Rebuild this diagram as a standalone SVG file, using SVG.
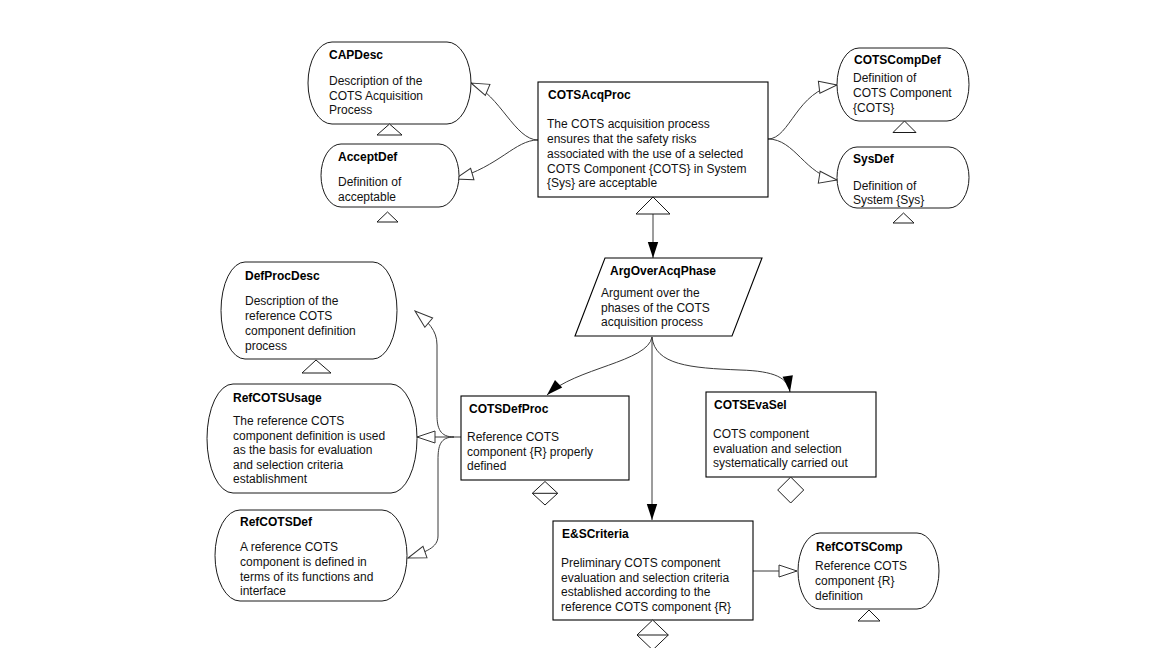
<svg xmlns="http://www.w3.org/2000/svg" width="1172" height="648" viewBox="0 0 1172 648">
<style>
.bg{fill:#fff}
.goal{fill:#fff;stroke:#000;stroke-width:1.1}
.ctx{fill:#fff;stroke:#1a1a1a;stroke-width:1}
.tri{fill:#fff;stroke:#1a1a1a;stroke-width:1}
.title{font-family:"Liberation Sans",Arial,sans-serif;font-size:12px;font-weight:bold;fill:#000}
.body{font-family:"Liberation Sans",Arial,sans-serif;font-size:12px;fill:#111}
.conn{fill:none;stroke:#3a3a3a;stroke-width:1}
.ctxc{marker-end:url(#hollow)}
.solc{marker-end:url(#solid)}
</style>
<defs>
<marker id="hollow" markerUnits="userSpaceOnUse" markerWidth="20" markerHeight="14" refX="18" refY="6" orient="auto" viewBox="-1 -1 20 14">
<path d="M0,0 L18,6 L0,12 Z" fill="#fff" stroke="#333" stroke-width="1"/>
</marker>
<marker id="solid" markerUnits="userSpaceOnUse" markerWidth="18" markerHeight="13" refX="17" refY="5.5" orient="auto" viewBox="-1 -1 19 13">
<path d="M0,0 L17,5.5 L0,11 Z" fill="#000"/>
</marker>
</defs>
<rect class="bg" x="0" y="0" width="1172" height="648"/>
<g id="connectors">
<path class="conn ctxc" d="M538,140 C515,140 500,95 471,83"/>
<path class="conn ctxc" d="M538,140 C515,140 500,166 455,179"/>
<path class="conn ctxc" d="M768,139 C790,139 797,90 837,85"/>
<path class="conn ctxc" d="M768,139 C795,139 805,175 837,180"/>
<path class="conn solc" d="M653,214 L653,258"/>
<path class="conn solc" d="M652,337 C648,362 575,368 547,395"/>
<path class="conn solc" d="M652,337 C655,365 690,368 740,370 C775,371 788,378 790,392"/>
<path class="conn solc" d="M652,337 L652,520"/>
<path class="conn ctxc" d="M461,437 L417,437"/>
<path class="conn ctxc" d="M454,437 C440,437 437,428 437,415 L437,345 C437,330 428,322 415,311"/>
<path class="conn ctxc" d="M454,437 C440,437 438,446 438,460 L438,536 C438,548 425,552 408,558"/>
<path class="conn ctxc" d="M753,571 L797,571"/>
</g>
<g id="CAPDesc">
<rect class="ctx" x="308" y="42" width="163" height="82" rx="24" ry="41"/>
<polygon class="tri" points="389.5,124 377,135 402,135"/>
<text class="title" x="329" y="59">CAPDesc</text>
<text class="body" x="329" y="84.5">Description of the</text>
<text class="body" x="329" y="99.5">COTS Acquisition</text>
<text class="body" x="329" y="114">Process</text>
</g>
<g id="AcceptDef">
<rect class="ctx" x="321" y="144" width="138" height="63" rx="20" ry="31.5"/>
<polygon class="tri" points="387.5,212 377,222 398,222"/>
<text class="title" x="338" y="161">AcceptDef</text>
<text class="body" x="338" y="186">Definition of</text>
<text class="body" x="338" y="201">acceptable</text>
</g>
<g id="COTSAcqProc">
<rect class="goal" x="538" y="82" width="230" height="115"/>
<polygon class="tri" points="653,197 636,214 670,214"/>
<text class="title" x="548" y="99">COTSAcqProc</text>
<text class="body" x="547" y="128">The COTS acquisition process</text>
<text class="body" x="547" y="143">ensures that the safety risks</text>
<text class="body" x="547" y="158">associated with the use of a selected</text>
<text class="body" x="547" y="172.5">COTS Component {COTS} in System</text>
<text class="body" x="547" y="187">{Sys} are acceptable</text>
</g>
<g id="COTSCompDef">
<rect class="ctx" x="837" y="48" width="132" height="73" rx="22" ry="36.5"/>
<polygon class="tri" points="904.5,121 893,132.5 916,132.5"/>
<text class="title" x="854" y="63.5">COTSCompDef</text>
<text class="body" x="853" y="82">Definition of</text>
<text class="body" x="853" y="97">COTS Component</text>
<text class="body" x="853" y="112">{COTS}</text>
</g>
<g id="SysDef">
<rect class="ctx" x="837" y="147" width="132" height="61" rx="20" ry="30.5"/>
<polygon class="tri" points="903.5,213 893,223 914,223"/>
<text class="title" x="853" y="163">SysDef</text>
<text class="body" x="853" y="189.5">Definition of</text>
<text class="body" x="853" y="204">System {Sys}</text>
</g>
<g id="ArgOverAcqPhase">
<polygon class="goal" points="605,258 762,258 732,336 575,336"/>
<text class="title" x="610" y="275">ArgOverAcqPhase</text>
<text class="body" x="601" y="297">Argument over the</text>
<text class="body" x="601" y="312">phases of the COTS</text>
<text class="body" x="601" y="326">acquisition process</text>
</g>
<g id="DefProcDesc">
<rect class="ctx" x="221" y="262" width="176" height="97" rx="24" ry="48.5"/>
<polygon class="tri" points="316,360 302,373 331,373"/>
<text class="title" x="245" y="280">DefProcDesc</text>
<text class="body" x="245" y="305">Description of the</text>
<text class="body" x="245" y="320">reference COTS</text>
<text class="body" x="245" y="335">component definition</text>
<text class="body" x="245" y="350">process</text>
</g>
<g id="RefCOTSUsage">
<rect class="ctx" x="207" y="384" width="210" height="109" rx="26" ry="54.5"/>
<text class="title" x="233" y="401.5">RefCOTSUsage</text>
<text class="body" x="233" y="425">The reference COTS</text>
<text class="body" x="233" y="440">component definition is used</text>
<text class="body" x="233" y="454">as the basis for evaluation</text>
<text class="body" x="233" y="469">and selection criteria</text>
<text class="body" x="233" y="483">establishment</text>
</g>
<g id="RefCOTSDef">
<rect class="ctx" x="215" y="510" width="192" height="91" rx="25" ry="45.5"/>
<text class="title" x="240" y="526">RefCOTSDef</text>
<text class="body" x="240" y="551">A reference COTS</text>
<text class="body" x="240" y="566">component is defined in</text>
<text class="body" x="240" y="581">terms of its functions and</text>
<text class="body" x="240" y="595">interface</text>
</g>
<g id="COTSDefProc">
<rect class="goal" x="461" y="396" width="168" height="84"/>
<polygon class="tri" points="545,481.5 557.7,493.3 545,505 532.3,493.3"/>
<line x1="532.3" y1="493.3" x2="557.7" y2="493.3" stroke="#1a1a1a" stroke-width="1"/>
<text class="title" x="469" y="412.5">COTSDefProc</text>
<text class="body" x="467" y="441">Reference COTS</text>
<text class="body" x="467" y="456">component {R} properly</text>
<text class="body" x="467" y="470">defined</text>
</g>
<g id="COTSEvaSel">
<rect class="goal" x="706" y="392" width="170" height="85"/>
<polygon class="tri" points="790.7,477 803.7,490 790.7,503 777.7,490"/>
<text class="title" x="714" y="409">COTSEvaSel</text>
<text class="body" x="713" y="437.5">COTS component</text>
<text class="body" x="713" y="452.5">evaluation and selection</text>
<text class="body" x="713" y="467">systematically carried out</text>
</g>
<g id="ESCriteria">
<rect class="goal" x="553" y="521" width="200" height="99"/>
<polygon class="tri" points="652.7,620 668.3,635 652.7,650 637,635"/>
<line x1="637" y1="635" x2="668.3" y2="635" stroke="#1a1a1a" stroke-width="1"/>
<text class="title" x="562" y="537.5">E&amp;SCriteria</text>
<text class="body" x="561" y="567">Preliminary COTS component</text>
<text class="body" x="561" y="581.5">evaluation and selection criteria</text>
<text class="body" x="561" y="596">established according to the</text>
<text class="body" x="561" y="611">reference COTS component {R}</text>
</g>
<g id="RefCOTSComp">
<rect class="ctx" x="798" y="533" width="141" height="76" rx="22" ry="38"/>
<polygon class="tri" points="869,610 858,621 880,621"/>
<text class="title" x="816" y="551">RefCOTSComp</text>
<text class="body" x="815" y="570">Reference COTS</text>
<text class="body" x="815" y="585">component {R}</text>
<text class="body" x="815" y="600">definition</text>
</g>
</svg>
